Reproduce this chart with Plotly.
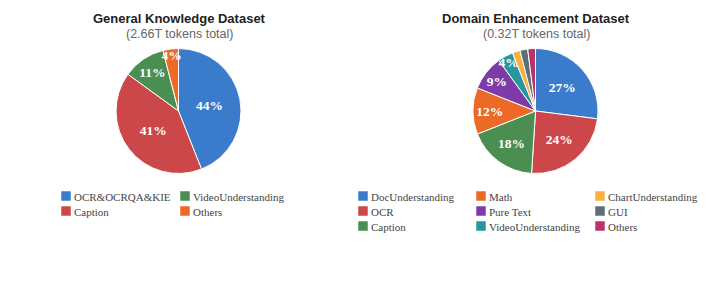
import plotly.graph_objects as go

OFF = 8  # page body margin
W, H = 714 - OFF, 290 - OFF

gk_labels = ["OCR&OCRQA&KIE", "Caption", "VideoUnderstanding", "Others"]
gk_values = [44, 41, 11, 4]
gk_colors = ["#3A7CCB", "#CC4749", "#4B8E51", "#EC6A25"]

de_labels = ["DocUnderstanding", "OCR", "Caption", "Math", "Pure Text",
             "VideoUnderstanding", "ChartUnderstanding", "GUI", "Others"]
de_values = [27, 24, 18, 12, 9, 4, 2, 2, 2]
de_colors = ["#3A7CCB", "#CC4749", "#4B8E51", "#EC6A25", "#7E3AA6",
             "#27969F", "#F9B041", "#5F6E77", "#B8336A"]

titles = ["General Knowledge Dataset", "Domain Enhancement Dataset"]
subtitles = ["(2.66T tokens total)", "(0.32T tokens total)"]


def px(x):
    return (x - OFF) / W


def py(y):
    return 1 - (y - OFF) / H


fig = go.Figure()


def add_pie(labels, values, colors, cx, cy, r):
    tmpl = ["%{percent:.0%}" if v >= 4 else "" for v in values]
    fig.add_trace(go.Pie(
        labels=labels, values=values, sort=False, direction="clockwise",
        rotation=0,
        marker=dict(colors=colors, line=dict(color="white", width=1)),
        texttemplate=tmpl, textposition="inside",
        insidetextorientation="horizontal",
        textfont=dict(family="Liberation Serif", size=13.5, color="white", weight="bold"),
        hoverinfo="label+percent",
        domain=dict(x=[px(cx - r), px(cx + r)], y=[py(cy + r), py(cy - r)]),
        showlegend=False,
    ))


add_pie(gk_labels, gk_values, gk_colors, 178.5, 111, 62.5)
add_pie(de_labels, de_values, de_colors, 535.5, 111, 62.5)

annotations = []
shapes = []
for tx, t, s in zip([179, 536], titles, subtitles):
    annotations.append(dict(x=px(tx), y=py(18), xref="paper", yref="paper",
                            text="<b>" + t + "</b>", showarrow=False,
                            font=dict(family="Liberation Sans", size=13, color="#222"),
                            xanchor="center", yanchor="middle"))
    annotations.append(dict(x=px(tx), y=py(33.5), xref="paper", yref="paper",
                            text=s, showarrow=False,
                            font=dict(family="Liberation Sans", size=12.5, color="#666"),
                            xanchor="center", yanchor="middle"))


def add_legend(labels, colors, col_x, rows, y0):
    for i, (lab, col) in enumerate(zip(labels, colors)):
        c = i // rows
        rr = i % rows
        x = col_x[c]
        y = y0 + rr * 15
        shapes.append(dict(type="rect", xref="paper", yref="paper",
                           x0=px(x), x1=px(x + 10), y0=py(y + 10), y1=py(y),
                           fillcolor=col, line=dict(color="rgba(255,255,255,0.5)", width=1)))
        annotations.append(dict(x=px(x + 11), y=py(y + 5.5), xref="paper", yref="paper",
                                text=lab, showarrow=False, xanchor="left", yanchor="middle",
                                font=dict(family="Liberation Serif", size=11, color="#444")))


add_legend(gk_labels, gk_colors, [61, 180], 2, 191)
add_legend(de_labels, de_colors, [358, 476, 595], 3, 191)

fig.update_layout(
    width=W, height=H,
    margin=dict(l=0, r=0, t=0, b=0),
    paper_bgcolor="white", plot_bgcolor="white",
    annotations=annotations, shapes=shapes,
    uniformtext=dict(minsize=13.5, mode="show"),
)

fig.write_html("out.html")
